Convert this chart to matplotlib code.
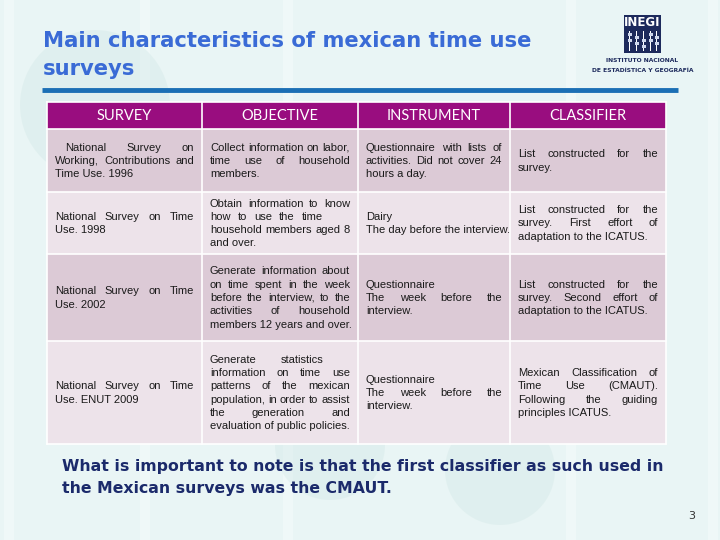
import matplotlib.pyplot as plt
from matplotlib.patches import Rectangle, Circle

title_lines = ["Main characteristics of mexican time use", "surveys"]
headers = ["SURVEY", "OBJECTIVE", "INSTRUMENT", "CLASSIFIER"]

# "|" = wrapped (justified) line break, "\n" = hard break,
# trailing spaces before "|" shorten the justified width
survey = [
    "  National Survey on|Working, Contributions and|Time Use. 1996",
    "National Survey on Time|Use. 1998",
    "National Survey on Time|Use. 2002",
    "National Survey on Time|Use. ENUT 2009",
]
objective = [
    "Collect information on labor,|time use of household|members.",
    "Obtain information to know|how to use the time   |household members aged 8|and over.",
    "Generate information about|on time spent in the week|before the interview, to the|activities of household|members 12 years and over.",
    "Generate statistics   |information on time use|patterns of the mexican|population, in order to assist|the generation and|evaluation of public policies.",
]
instrument = [
    "Questionnaire with lists of|activities. Did not cover 24|hours a day.",
    "Dairy\nThe day before the interview.",
    "Questionnaire\nThe week before the|interview.",
    "Questionnaire\nThe week before the|interview.",
]
classifier = [
    "List constructed for the|survey.",
    "List constructed for the|survey. First effort of|adaptation to the ICATUS.",
    "List constructed for the|survey. Second effort of|adaptation to the ICATUS.",
    "Mexican Classification of|Time Use (CMAUT).|Following the guiding|principles ICATUS.",
]
note_lines = ["What is important to note is that the first classifier as such used in",
              "the Mexican surveys was the CMAUT."]
page_no = "3"

W, H = 720, 540
col_edges = [47, 202, 358, 510, 666]
row_edges = [102, 129, 192, 254, 341, 444]
header_color = "#990d7f"
row_colors = ["#dccad6", "#ede3ea"]
pad = 8
pitch = 13.3
cell_font = dict(family="Liberation Sans", fontsize=8.0, color="#1a1a1a")

fig = plt.figure(figsize=(7.2, 5.4), dpi=100, facecolor="#e9f5f5")
ax = fig.add_axes([0, 0, 1, 1])
ax.set_xlim(0, W)
ax.set_ylim(H, 0)
ax.axis("off")
renderer = fig.canvas.get_renderer()

# background decoration
for x in [4, 140, 283, 566, 708]:
    ax.add_patch(Rectangle((x, 0), 10, H, color="white", alpha=0.3, lw=0, zorder=0))
for (cx, cy, r) in [(95, 105, 75), (330, 445, 55), (500, 470, 55)]:
    ax.add_patch(Circle((cx, cy), r, color="#cfe6e4", alpha=0.35, lw=0, zorder=0))

# title
for i, line in enumerate(title_lines):
    ax.text(43, 41 + i * 28, line, family="DejaVu Sans", weight="bold", fontsize=15.2,
            color="#3a6bd6", va="center", ha="left")
ax.plot([42, 678], [90, 90], color="#1b6fb5", lw=3.5, solid_capstyle="butt")

# logo
ax.add_patch(Rectangle((624, 15), 37, 38, color="#1d2a5c", lw=0))
ax.text(642.5, 22.5, "INEGI", color="white", weight="bold", fontsize=8.5,
        family="DejaVu Sans", ha="center", va="center")
for i, bx in enumerate([629, 636, 643, 650, 656]):
    ax.add_patch(Rectangle((bx, 31), 1.2, 20, color="white", lw=0))
    for k in range(2):
        ax.add_patch(Rectangle((bx - 1.5, 33 + (i % 3) * 3 + k * 6), 4, 2.5, color="#cfd8ee", lw=0))
ax.text(642, 61, "INSTITUTO NACIONAL", color="#1d2a5c", weight="bold", fontsize=4.3,
        family="DejaVu Sans", ha="center", va="center")
ax.text(643, 70, "DE ESTADÍSTICA Y GEOGRAFÍA", color="#1d2a5c", weight="bold", fontsize=4.3,
        family="DejaVu Sans", ha="center", va="center")


def measure(s):
    t = ax.text(0, 0, s, **cell_font)
    w = t.get_window_extent(renderer=renderer).width
    t.remove()
    return w


def draw_line(x0, x1, y, line, justify):
    indent = (len(line) - len(line.lstrip())) * 5
    trail = (len(line) - len(line.rstrip())) * 9
    words = line.split()
    x0 = x0 + indent
    x1 = x1 - trail
    if not justify or len(words) == 1:
        ax.text(x0, y, " ".join(words), va="baseline", ha="left", **cell_font)
        return
    widths = [measure(w) for w in words]
    gap = max((x1 - x0 - sum(widths)) / (len(words) - 1), 2.0)
    x = x0
    for w, wd in zip(words, widths):
        ax.text(x, y, w, va="baseline", ha="left", **cell_font)
        x += wd + gap


# header
ax.add_patch(Rectangle((col_edges[0], row_edges[0]), col_edges[-1] - col_edges[0],
                       row_edges[1] - row_edges[0], color=header_color, lw=0))
for j, h in enumerate(headers):
    ax.text((col_edges[j] + col_edges[j + 1]) / 2, (row_edges[0] + row_edges[1]) / 2 + 1, h,
            color="white", family="Lato", fontsize=10.5, ha="center", va="center")

columns = [survey, objective, instrument, classifier]
for i in range(len(survey)):
    y0, y1 = row_edges[i + 1], row_edges[i + 2]
    ax.add_patch(Rectangle((col_edges[0], y0), col_edges[-1] - col_edges[0], y1 - y0,
                           color=row_colors[i % 2], lw=0))
    for j, col in enumerate(columns):
        lines = []
        for para in col[i].split("\n"):
            parts = para.split("|")
            for k, p in enumerate(parts):
                lines.append((p, k < len(parts) - 1))
        cy = (y0 + y1) / 2
        n = len(lines)
        for k, (p, just) in enumerate(lines):
            yb = cy + (k - (n - 1) / 2) * pitch + 3.5
            draw_line(col_edges[j] + pad, col_edges[j + 1] - pad, yb, p, just)

# white grid lines
for x in col_edges:
    ax.plot([x, x], [row_edges[0], row_edges[-1]], color="white", lw=1.2)
for y in row_edges:
    ax.plot([col_edges[0], col_edges[-1]], [y, y], color="white", lw=1.2)

# note
for i, line in enumerate(note_lines):
    ax.text(62, 466 + i * 22, line, family="DejaVu Sans", weight="bold", fontsize=11.3,
            color="#1b2a6b", va="center", ha="left")
ax.text(692, 516, page_no, fontsize=8, color="#333333", family="DejaVu Sans",
        ha="center", va="center")

fig.savefig("out.png", dpi=100, facecolor=fig.get_facecolor())
